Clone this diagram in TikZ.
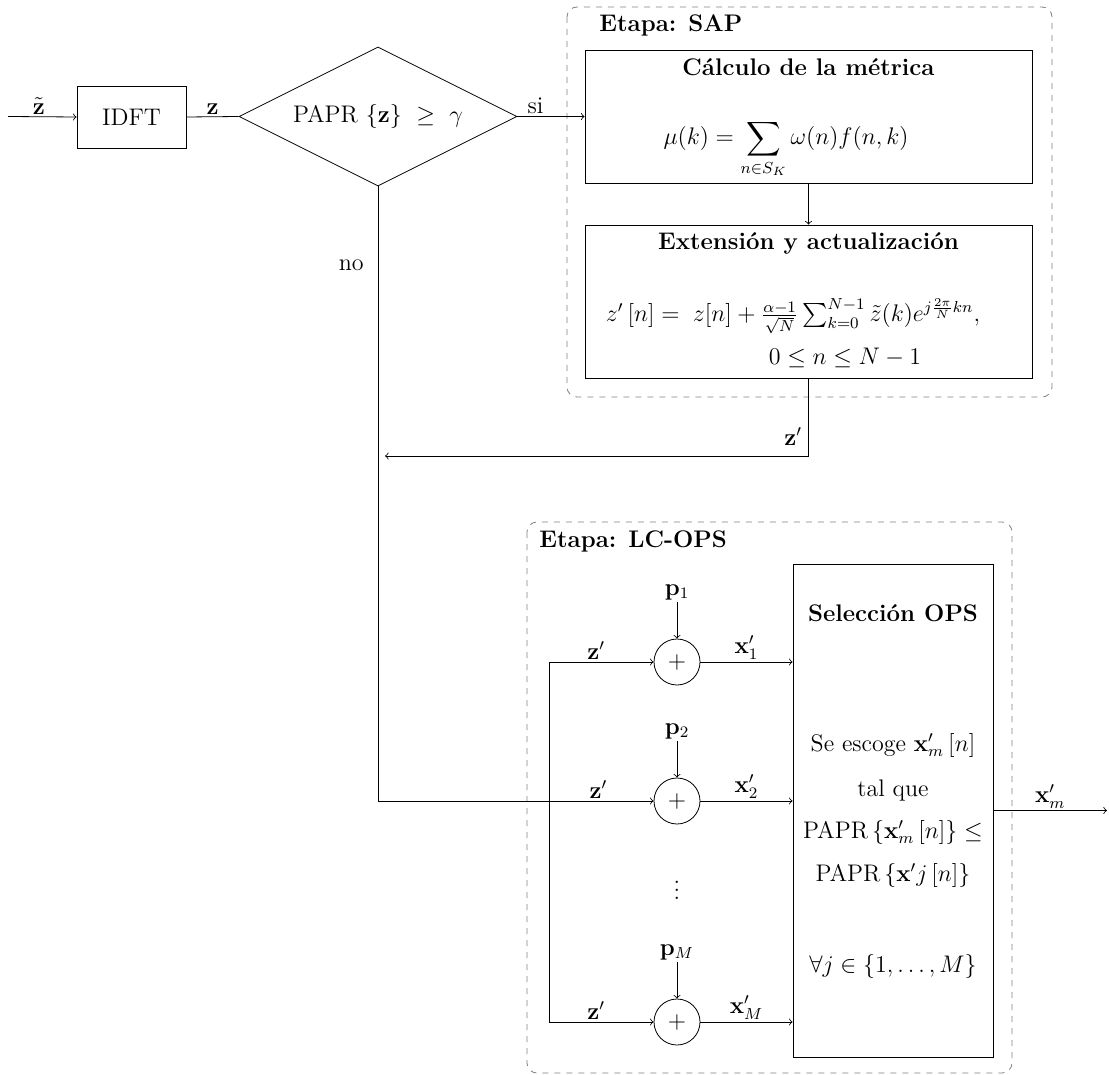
\documentclass[tikz,border=0pt]{standalone}
\usepackage{amsmath,amssymb}
\usetikzlibrary{shapes.geometric,calc}
\begin{document}
\begin{tikzpicture}[x=0.5pt,y=-0.5pt,
  every node/.style={font=\large},
  blk/.style={draw,rectangle,inner sep=0pt},
  sumc/.style={draw,circle,minimum size=23pt,inner sep=0pt},
  stage/.style={draw=gray,dashed,rounded corners=5pt},
  lbl/.style={inner sep=1pt},
  conn/.style={->}]
\useasboundingbox (0,0) rectangle (1109,1075);
% stage frames
\draw[stage] (567,7) rectangle (1052,397);
\draw[stage] (527,522) rectangle (1012,1073);
\node[lbl,anchor=west] (sapT) at (597,25) {\textbf{Etapa: SAP}};
\node[lbl,anchor=west] (lcT) at (537,541) {\textbf{Etapa: LC-OPS}};
% nodes
\coordinate (in) at (8,116.5);
\node[blk,minimum width=54.5pt,minimum height=31pt] (idft) at (131.5,117) {IDFT};
\node[draw,diamond,aspect=2,inner sep=0pt,minimum width=139pt,minimum height=69.5pt] (dec) at (378,116.5) {PAPR $\{\mathbf{z}\}\ \geq\ \gamma$};
\node[blk,minimum width=223.5pt,minimum height=66.5pt] (metric) at (808.5,116.5) {};
\node[lbl] (metricT) at (808.5,67) {\textbf{C\'alculo de la m\'etrica}};
\node[lbl] (metricF) at (786,149) {$\displaystyle \mu(k)=\sum_{n\in S_K}\omega(n)f(n,k)$};
\node[blk,minimum width=223.5pt,minimum height=76.5pt] (update) at (808.5,301.5) {};
\node[lbl] (updT) at (808.5,243) {\textbf{Extensi\'on y actualizaci\'on}};
\node[lbl] (updF) at (793,316) {$z'\left[n\right] =\; z[n]+\frac{\alpha-1}{\sqrt{N}}\sum_{k=0}^{N-1}\tilde{z}(k)e^{j\frac{2\pi}{N}kn},$};
\node[lbl] (updG) at (845,358) {$0\leq n\leq N-1$};
\coordinate (zback) at (385,456);
% LC-OPS
\node[sumc] (add1) at (677,662) {$+$};
\node[sumc] (add2) at (677,801) {$+$};
\node[sumc] (add3) at (677,1022) {$+$};
\node[lbl] (p1) at (677,592) {$\mathbf{p}_1$};
\node[lbl] (p2) at (677,731) {$\mathbf{p}_2$};
\node[lbl] (pM) at (677,952) {$\mathbf{p}_M$};
\node[lbl] (dots) at (677,884) {$\vdots$};
\coordinate (busTop) at (549,662);
\coordinate (busBot) at (549,1022);
\node[blk,minimum width=100pt,minimum height=246.5pt] (ops) at (893,810.5) {};
\node[lbl] (opsT) at (893,613) {\textbf{Selecci\'on OPS}};
\node[lbl] (opsL1) at (893,745) {Se escoge $\mathbf{x}'_m\left[n\right]$};
\node[lbl] (opsL2) at (893,790) {tal que};
\node[lbl] (opsL3) at (893,832) {PAPR$\,\left\{\mathbf{x}'_m\left[n\right]\right\}\leq$};
\node[lbl] (opsL4) at (893,875) {PAPR$\,\left\{\mathbf{x}'j\left[n\right]\right\}$};
\node[lbl] (opsL5) at (893,966) {$\forall j\in\{1,\ldots,M\}$};
\coordinate (out) at (1107,810.5);
% connectors
\draw[conn] (in) -- (idft.west) node[pos=0.45,above,lbl] {$\tilde{\mathbf{z}}$};
\draw (idft.east) -- (dec.west) node[pos=0.5,above,lbl] {$\mathbf{z}$};
\draw[conn] (dec.east) -- (metric.west) node[pos=0.27,above,lbl] {si};
\draw[conn] (metric.south) -- (update.north);
\draw[conn] (update.south) |- (zback) node[pos=0.5,above left,lbl,xshift=-2pt,yshift=4pt] {$\mathbf{z}'$};
\draw[conn] (dec.south) |- (add2.west) node[pos=0.064,left,lbl,xshift=-6pt] {no} node[pos=0.9,above,lbl] {$\mathbf{z}'$};
\draw (busTop) -- (busBot);
\draw[conn] (busTop) -- (add1.west) node[pos=0.45,above,lbl] {$\mathbf{z}'$};
\draw[conn] (busBot) -- (add3.west) node[pos=0.45,above,lbl] {$\mathbf{z}'$};
\draw[conn] (p1) -- (add1.north);
\draw[conn] (p2) -- (add2.north);
\draw[conn] (pM) -- (add3.north);
\draw[conn] (add1.east) -- (ops.west |- add1) node[pos=0.5,above,lbl] {$\mathbf{x}'_1$};
\draw[conn] (add2.east) -- (ops.west |- add2) node[pos=0.5,above,lbl] {$\mathbf{x}'_2$};
\draw[conn] (add3.east) -- (ops.west |- add3) node[pos=0.5,above,lbl] {$\mathbf{x}'_M$};
\draw[conn] (ops.east) -- (out) node[pos=0.5,above,lbl] {$\mathbf{x}'_m$};
\end{tikzpicture}
\end{document}
